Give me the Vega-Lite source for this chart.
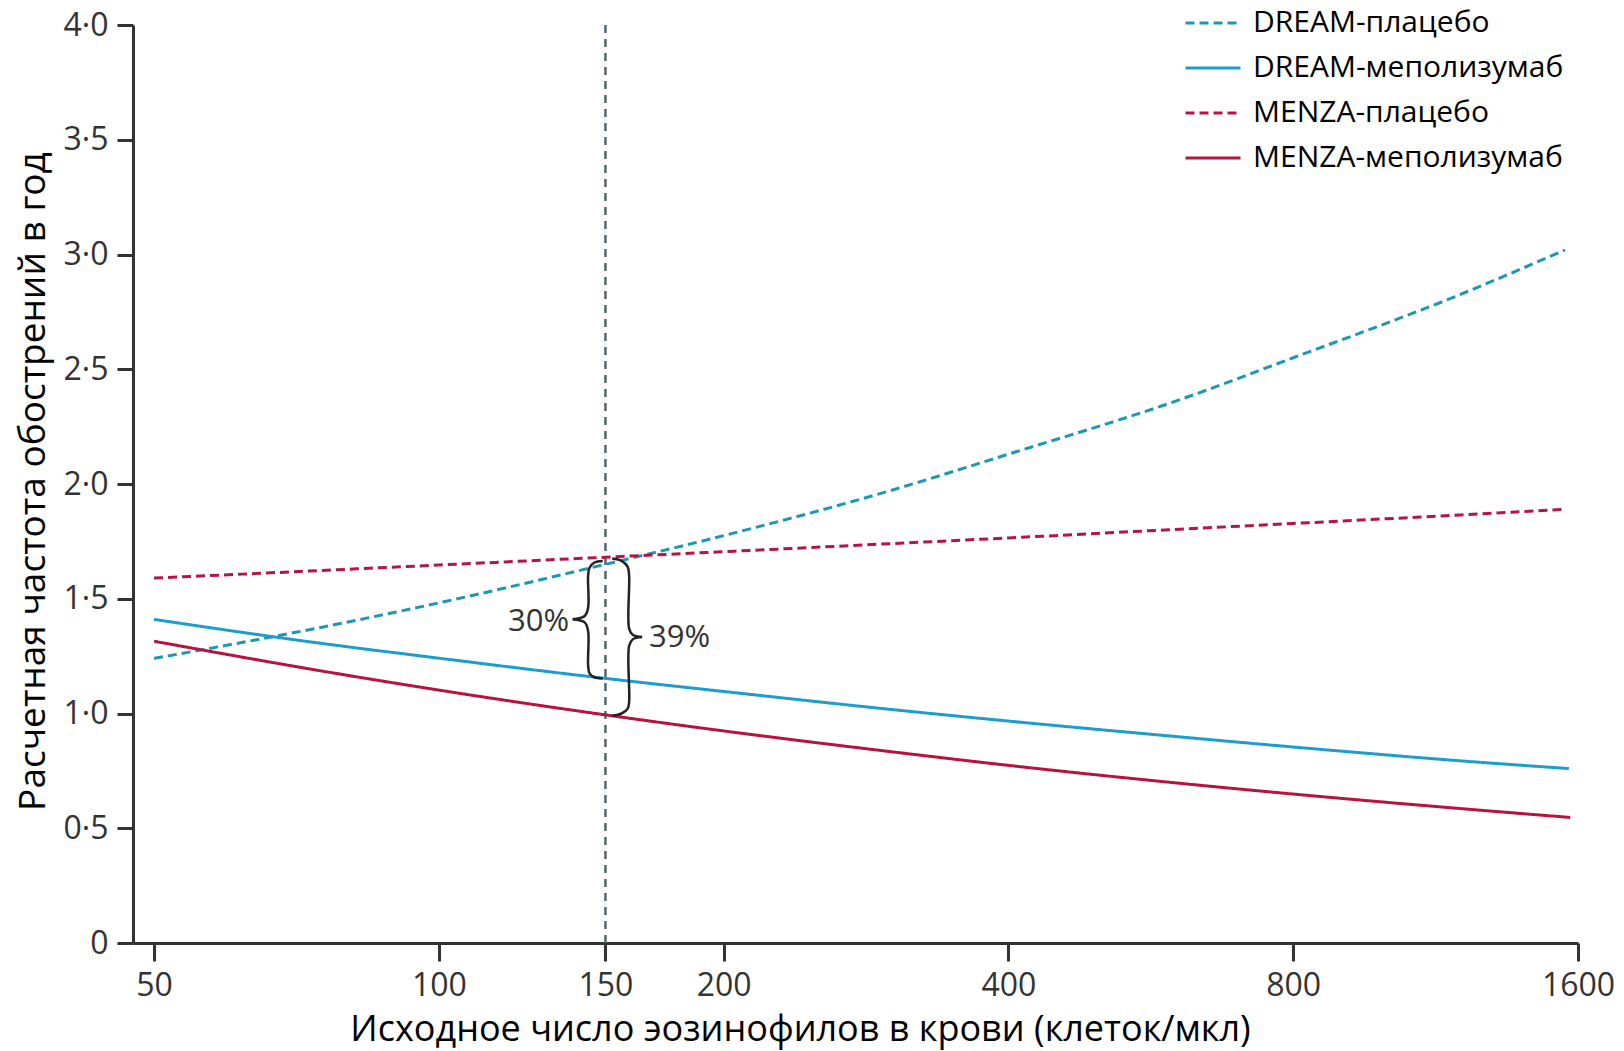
{
  "$schema": "https://vega.github.io/schema/vega-lite/v6.json",
  "width": 1445,
  "height": 918,
  "autosize": {"type": "none"},
  "padding": {"left": 133, "top": 25, "right": 46, "bottom": 108},
  "background": "white",
  "config": {
    "view": {"stroke": null},
    "font": "Open Sans",
    "legend": {
      "orient": "none",
      "legendX": 1051,
      "legendY": -31,
      "symbolType": "stroke",
      "symbolSize": 3025,
      "symbolStrokeWidth": 3,
      "labelFont": "Open Sans",
      "labelFontSize": 30,
      "labelColor": "#000000",
      "labelOffset": 11,
      "labelLimit": 500,
      "rowPadding": 1,
      "padding": 0
    }
  },
  "encoding": {
    "x": {
      "field": "x",
      "type": "quantitative",
      "scale": {"type": "log", "domain": [47.5, 1600], "nice": false},
      "axis": {
        "values": [50, 100, 150, 200, 400, 800, 1600],
        "format": "d",
        "grid": false,
        "domainColor": "#333333",
        "domainWidth": 3,
        "tickColor": "#333333",
        "tickWidth": 3,
        "tickSize": 18,
        "labelPadding": 9,
        "labelFont": "Open Sans",
        "labelFontSize": 32,
        "labelColor": "#333333",
        "labelFlush": false,
        "labelOverlap": false,
        "title": "Исходное число эозинофилов в крови (клеток/мкл)",
        "titleFont": "Open Sans",
        "titleFontSize": 36,
        "titleFontWeight": "normal",
        "titleColor": "#000000",
        "titleX": 667,
        "titleY": 86,
        "titleAlign": "center",
        "titleBaseline": "middle"
      }
    },
    "y": {
      "field": "y",
      "type": "quantitative",
      "scale": {"domain": [0, 4], "nice": false},
      "axis": {
        "values": [0, 0.5, 1, 1.5, 2, 2.5, 3, 3.5, 4],
        "labelExpr": "datum.value == 0 ? '0' : replace(format(datum.value, '.1f'), '.', '·')",
        "grid": false,
        "domainColor": "#333333",
        "domainWidth": 3,
        "tickColor": "#333333",
        "tickWidth": 3,
        "tickSize": 16,
        "labelPadding": 9,
        "labelFont": "Open Sans",
        "labelFontSize": 32,
        "labelColor": "#333333",
        "labelFlush": false,
        "title": "Расчетная частота обострений в год",
        "titleFont": "Open Sans",
        "titleFontSize": 37,
        "titleFontWeight": "normal",
        "titleColor": "#000000",
        "titleX": -100,
        "titleY": 456,
        "titleAngle": -90,
        "titleAlign": "center",
        "titleBaseline": "middle"
      }
    }
  },
  "layer": [
    {
      "data": {"values": [{"x": 150, "y": 0, "y2": 4}]},
      "mark": {"type": "rule", "color": "#506870", "strokeWidth": 2.5, "strokeDash": [8, 6]},
      "encoding": {"y2": {"field": "y2"}}
    },
    {
      "data": {
        "values": [
          {"series": "DREAM-плацебо", "x": 50, "y": 1.24},
          {"series": "DREAM-плацебо", "x": 75, "y": 1.375},
          {"series": "DREAM-плацебо", "x": 100, "y": 1.482},
          {"series": "DREAM-плацебо", "x": 150, "y": 1.65},
          {"series": "DREAM-плацебо", "x": 200, "y": 1.775},
          {"series": "DREAM-плацебо", "x": 300, "y": 1.971},
          {"series": "DREAM-плацебо", "x": 400, "y": 2.13},
          {"series": "DREAM-плацебо", "x": 600, "y": 2.36},
          {"series": "DREAM-плацебо", "x": 800, "y": 2.55},
          {"series": "DREAM-плацебо", "x": 1200, "y": 2.825},
          {"series": "DREAM-плацебо", "x": 1550, "y": 3.02},
          {"series": "DREAM-меполизумаб", "x": 50, "y": 1.41},
          {"series": "DREAM-меполизумаб", "x": 75, "y": 1.306},
          {"series": "DREAM-меполизумаб", "x": 100, "y": 1.241},
          {"series": "DREAM-меполизумаб", "x": 150, "y": 1.153},
          {"series": "DREAM-меполизумаб", "x": 200, "y": 1.096},
          {"series": "DREAM-меполизумаб", "x": 300, "y": 1.018},
          {"series": "DREAM-меполизумаб", "x": 400, "y": 0.967},
          {"series": "DREAM-меполизумаб", "x": 600, "y": 0.9},
          {"series": "DREAM-меполизумаб", "x": 800, "y": 0.854},
          {"series": "DREAM-меполизумаб", "x": 1200, "y": 0.794},
          {"series": "DREAM-меполизумаб", "x": 1565, "y": 0.76},
          {"series": "MENZA-плацебо", "x": 50, "y": 1.59},
          {"series": "MENZA-плацебо", "x": 75, "y": 1.623},
          {"series": "MENZA-плацебо", "x": 100, "y": 1.647},
          {"series": "MENZA-плацебо", "x": 150, "y": 1.681},
          {"series": "MENZA-плацебо", "x": 200, "y": 1.705},
          {"series": "MENZA-плацебо", "x": 300, "y": 1.74},
          {"series": "MENZA-плацебо", "x": 400, "y": 1.765},
          {"series": "MENZA-плацебо", "x": 600, "y": 1.802},
          {"series": "MENZA-плацебо", "x": 800, "y": 1.828},
          {"series": "MENZA-плацебо", "x": 1200, "y": 1.865},
          {"series": "MENZA-плацебо", "x": 1555, "y": 1.89},
          {"series": "MENZA-меполизумаб", "x": 50, "y": 1.315},
          {"series": "MENZA-меполизумаб", "x": 75, "y": 1.186},
          {"series": "MENZA-меполизумаб", "x": 100, "y": 1.102},
          {"series": "MENZA-меполизумаб", "x": 150, "y": 0.994},
          {"series": "MENZA-меполизумаб", "x": 200, "y": 0.924},
          {"series": "MENZA-меполизумаб", "x": 300, "y": 0.834},
          {"series": "MENZA-меполизумаб", "x": 400, "y": 0.774},
          {"series": "MENZA-меполизумаб", "x": 600, "y": 0.698},
          {"series": "MENZA-меполизумаб", "x": 800, "y": 0.649},
          {"series": "MENZA-меполизумаб", "x": 1200, "y": 0.586},
          {"series": "MENZA-меполизумаб", "x": 1570, "y": 0.547}
        ]
      },
      "mark": {"type": "line", "strokeWidth": 3, "interpolate": "monotone"},
      "encoding": {
        "color": {
          "field": "series",
          "type": "nominal",
          "scale": {
            "domain": ["DREAM-плацебо", "DREAM-меполизумаб", "MENZA-плацебо", "MENZA-меполизумаб"],
            "range": ["#1c98b0", "#1d9dcc", "#b51545", "#b8123f"]
          },
          "legend": {"title": null}
        },
        "strokeDash": {
          "field": "series",
          "type": "nominal",
          "scale": {
            "domain": ["DREAM-плацебо", "DREAM-меполизумаб", "MENZA-плацебо", "MENZA-меполизумаб"],
            "range": [[9, 5], [1, 0], [9, 5], [1, 0]]
          },
          "legend": {"title": null}
        }
      }
    },
    {
      "data": {
        "values": [
          {"part": "L1", "i": 1, "x": 149, "y": 1.665},
          {"part": "L1", "i": 2, "x": 146, "y": 1.658},
          {"part": "L1", "i": 3, "x": 144.3, "y": 1.635},
          {"part": "L1", "i": 4, "x": 143.8, "y": 1.6},
          {"part": "L1", "i": 5, "x": 143.8, "y": 1.46},
          {"part": "L1", "i": 6, "x": 142.6, "y": 1.425},
          {"part": "L1", "i": 7, "x": 138.5, "y": 1.411},
          {"part": "L2", "i": 1, "x": 138.5, "y": 1.411},
          {"part": "L2", "i": 2, "x": 142.6, "y": 1.397},
          {"part": "L2", "i": 3, "x": 143.8, "y": 1.36},
          {"part": "L2", "i": 4, "x": 143.8, "y": 1.21},
          {"part": "L2", "i": 5, "x": 144.3, "y": 1.175},
          {"part": "L2", "i": 6, "x": 146, "y": 1.158},
          {"part": "L2", "i": 7, "x": 149, "y": 1.153},
          {"part": "R1", "i": 1, "x": 152.5, "y": 1.675},
          {"part": "R1", "i": 2, "x": 156, "y": 1.665},
          {"part": "R1", "i": 3, "x": 158.3, "y": 1.64},
          {"part": "R1", "i": 4, "x": 158.9, "y": 1.6},
          {"part": "R1", "i": 5, "x": 158.9, "y": 1.37},
          {"part": "R1", "i": 6, "x": 160.3, "y": 1.343},
          {"part": "R1", "i": 7, "x": 164, "y": 1.333},
          {"part": "R2", "i": 1, "x": 164, "y": 1.333},
          {"part": "R2", "i": 2, "x": 160.3, "y": 1.323},
          {"part": "R2", "i": 3, "x": 158.9, "y": 1.295},
          {"part": "R2", "i": 4, "x": 158.9, "y": 1.05},
          {"part": "R2", "i": 5, "x": 158.3, "y": 1.02},
          {"part": "R2", "i": 6, "x": 156, "y": 1.0},
          {"part": "R2", "i": 7, "x": 152.5, "y": 0.99}
        ]
      },
      "mark": {"type": "line", "color": "#222222", "strokeWidth": 2.5, "interpolate": "catmull-rom"},
      "encoding": {
        "detail": {"field": "part", "type": "nominal"},
        "order": {"field": "i", "type": "quantitative"}
      }
    },
    {
      "data": {"values": [{"label": "30%", "x": 137.3, "y": 1.4}]},
      "mark": {"type": "text", "font": "Open Sans", "fontSize": 31, "color": "#333333", "baseline": "middle", "align": "right"},
      "encoding": {"text": {"field": "label"}}
    },
    {
      "data": {"values": [{"label": "39%", "x": 166.8, "y": 1.33}]},
      "mark": {"type": "text", "font": "Open Sans", "fontSize": 31, "color": "#333333", "baseline": "middle", "align": "left"},
      "encoding": {"text": {"field": "label"}}
    }
  ]
}
